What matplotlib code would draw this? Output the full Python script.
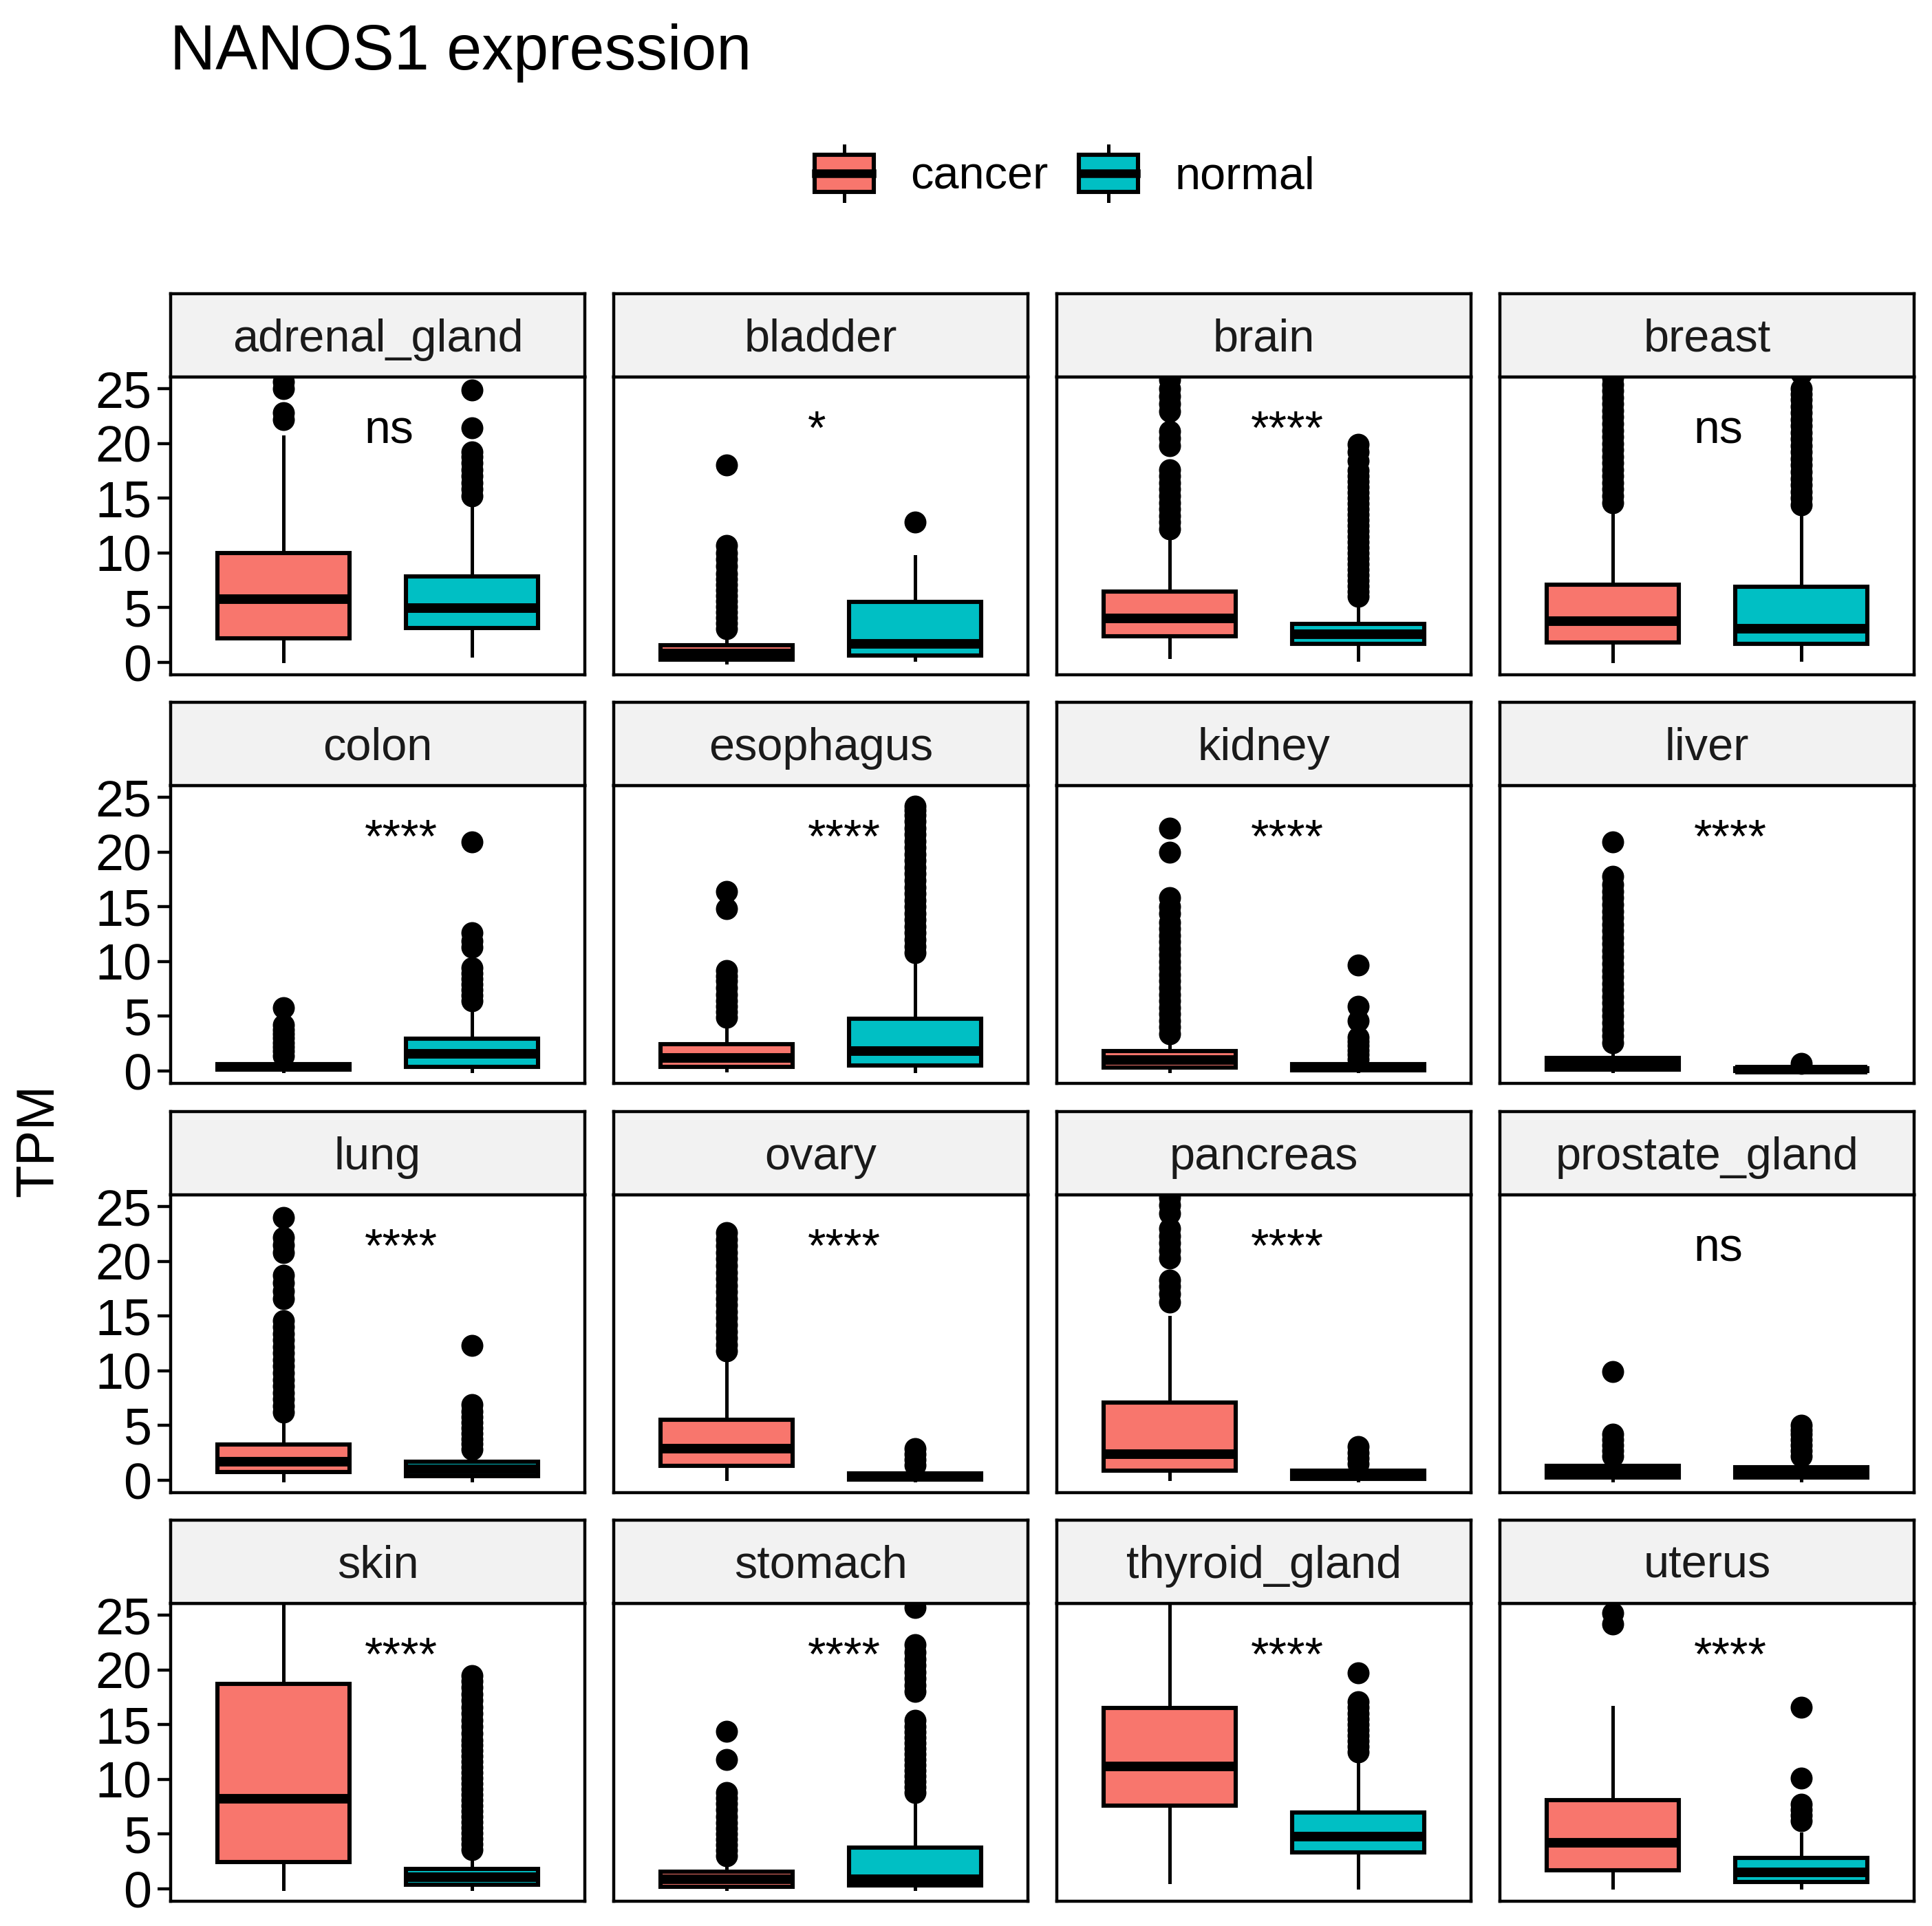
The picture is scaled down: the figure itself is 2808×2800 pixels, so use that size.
import matplotlib
matplotlib.use('Agg')
import matplotlib.pyplot as plt
from matplotlib.patches import Patch, Rectangle
from matplotlib.lines import Line2D
from matplotlib.legend_handler import HandlerBase

plt.rcParams['font.family'] = ['Liberation Sans', 'DejaVu Sans']

# --- данные (оценки по картинке) ---
tissues = ['adrenal_gland', 'bladder', 'brain', 'breast',
           'colon', 'esophagus', 'kidney', 'liver',
           'lung', 'ovary', 'pancreas', 'prostate_gland',
           'skin', 'stomach', 'thyroid_gland', 'uterus']
signif = ['ns', '*', '****', 'ns',
          '****', '****', '****', '****',
          '****', '****', '****', 'ns',
          '****', '****', '****', '****']

cancer_lo = [0.1, 0.0, 0.5, 0.1, 0.0, 0.05, 0.0, 0.0,
             0.0, 0.1, 0.1, 0.0, 0.0, 0.0, 0.6, 0.1]
cancer_q1 = [2.2, 0.25, 2.4, 1.8, 0.1, 0.4, 0.3, 0.1,
             0.75, 1.35, 0.85, 0.25, 2.45, 0.2, 7.6, 1.7]
cancer_med = [5.8, 0.8, 4.0, 3.75, 0.35, 1.2, 1.0, 0.6,
              1.7, 2.9, 2.4, 0.8, 8.25, 0.9, 11.2, 4.2]
cancer_q3 = [10.0, 1.55, 6.5, 7.1, 0.6, 2.45, 1.85, 1.2,
             3.25, 5.55, 7.1, 1.3, 18.7, 1.6, 16.5, 8.1]
cancer_hi = [20.6, 3.0, 11.4, 13.9, 1.3, 4.2, 2.9, 1.9,
             5.5, 11.0, 14.9, 1.6, 40.0, 2.2, 30.0, 16.6]

normal_lo = [0.6, 0.25, 0.25, 0.25, 0.0, 0.0, 0.0, 0.0,
             0.0, 0.0, 0.0, 0.0, 0.0, 0.0, 0.1, 0.1]
normal_q1 = [3.15, 0.6, 1.7, 1.7, 0.4, 0.5, 0.05, 0.0,
             0.35, 0.05, 0.1, 0.25, 0.4, 0.3, 3.3, 0.6]
normal_med = [4.95, 1.7, 2.55, 3.1, 1.6, 1.8, 0.3, 0.1,
              1.0, 0.3, 0.45, 0.7, 1.1, 0.9, 4.8, 1.5]
normal_q3 = [7.85, 5.55, 3.5, 6.9, 2.95, 4.8, 0.6, 0.25,
             1.7, 0.6, 0.85, 1.2, 1.85, 3.8, 7.0, 2.85]
normal_hi = [14.3, 9.7, 4.95, 13.6, 5.4, 10.0, 1.0, 0.4,
             2.0, 1.0, 1.3, 1.5, 2.8, 7.9, 11.45, 5.05]

cancer_out = [
    [22.2, 22.8, 25.0, 25.6, 26.5, 28.0],
    [3.1, 3.6, 4.1, 4.6, 5.1, 5.6, 6.1, 6.6, 7.1, 7.6, 8.1, 8.8, 9.4,
     10.0, 10.7, 18.0],
    [12.2, 12.8, 13.4, 14.0, 14.6, 15.2, 15.8, 16.4, 17.0, 17.6, 19.8,
     20.5, 21.1, 22.9, 23.6, 24.3, 25.0, 25.8],
    [14.6, 15.2, 15.8, 16.4, 17.0, 17.6, 18.2, 18.8, 19.4, 20.0, 20.6,
     21.2, 21.8, 22.4, 23.0, 23.6, 24.2, 24.8, 25.4, 26.0, 27.0],
    [1.4, 1.8, 2.2, 2.6, 3.0, 3.4, 3.8, 4.2, 5.8],
    [4.9, 5.4, 5.9, 6.4, 7.0, 7.6, 8.2, 8.7, 9.2, 14.8, 16.4],
    [3.4, 4.0, 4.6, 5.2, 5.8, 6.4, 7.0, 7.6, 8.2, 8.8, 9.4, 10.0, 10.6,
     11.2, 11.8, 12.4, 13.0, 13.6, 14.4, 15.0, 15.8, 20.0, 22.2],
    [2.6, 3.2, 3.8, 4.4, 5.0, 5.6, 6.2, 6.8, 7.4, 8.0, 8.6, 9.2, 9.8,
     10.4, 11.0, 11.6, 12.2, 12.8, 13.4, 14.0, 14.6, 15.2, 15.8, 16.4,
     17.0, 17.8, 20.9],
    [6.2, 6.8, 7.4, 8.0, 8.6, 9.2, 9.8, 10.4, 11.0, 11.6, 12.2, 12.8,
     13.4, 14.0, 14.6, 16.6, 17.3, 18.0, 18.7, 20.8, 21.5, 22.2, 24.0],
    [11.8, 12.4, 13.0, 13.6, 14.2, 14.8, 15.4, 16.0, 16.6, 17.2, 17.8,
     18.4, 19.0, 19.6, 20.2, 20.8, 21.4, 22.0, 22.6],
    [16.3, 17.0, 17.7, 18.3, 20.3, 21.0, 21.7, 22.3, 23.0, 24.4, 25.1,
     25.8, 26.6],
    [2.2, 2.7, 3.2, 3.7, 4.2, 9.9],
    [],
    [3.0, 3.5, 4.0, 4.5, 5.0, 5.5, 6.0, 6.6, 7.2, 7.8, 8.3, 8.8, 11.8,
     14.4],
    [],
    [24.2, 25.2],
]

normal_out = [
    [15.2, 15.8, 16.4, 17.0, 17.6, 18.2, 18.8, 19.2, 21.4, 24.9],
    [12.8],
    [6.0, 6.5, 7.0, 7.5, 8.0, 8.5, 9.0, 9.5, 10.0, 10.5, 11.0, 11.5,
     12.0, 12.5, 13.0, 13.5, 14.0, 14.5, 15.0, 15.5, 16.0, 16.5, 17.0,
     17.5, 18.4, 19.2, 19.9],
    [14.4, 15.0, 15.6, 16.2, 16.8, 17.4, 18.0, 18.6, 19.2, 19.8, 20.4,
     21.0, 21.6, 22.2, 22.8, 23.4, 24.0, 24.5, 25.0, 26.4],
    [6.4, 6.9, 7.4, 7.9, 8.4, 8.9, 9.4, 11.3, 11.9, 12.6, 20.9],
    [10.8, 11.4, 12.0, 12.6, 13.2, 13.8, 14.4, 15.0, 15.6, 16.2, 16.8,
     17.4, 18.0, 18.6, 19.2, 19.8, 20.4, 21.0, 21.6, 22.2, 22.8, 23.4,
     23.8, 24.2],
    [1.1, 1.5, 1.9, 2.3, 2.7, 3.1, 4.6, 5.9, 9.7],
    [0.7],
    [2.8, 3.3, 3.8, 4.3, 4.8, 5.3, 5.8, 6.3, 6.9, 12.3],
    [1.4, 1.9, 2.4, 2.9],
    [1.5, 2.0, 2.5, 3.1],
    [2.2, 2.7, 3.2, 3.7, 4.2, 4.6, 5.0],
    [3.6, 4.1, 4.6, 5.1, 5.6, 6.1, 6.6, 7.1, 7.6, 8.1, 8.6, 9.1, 9.6,
     10.1, 10.6, 11.1, 11.6, 12.1, 12.6, 13.1, 13.6, 14.2, 14.8, 15.4,
     16.0, 16.6, 17.2, 17.8, 18.4, 19.0, 19.5],
    [8.8, 9.3, 9.8, 10.3, 10.8, 11.3, 11.8, 12.3, 12.8, 13.3, 13.8,
     14.3, 14.8, 15.4, 18.0, 18.6, 19.2, 19.8, 20.4, 21.0, 21.6, 22.3,
     25.7],
    [12.5, 13.0, 13.5, 14.0, 14.5, 15.0, 15.5, 16.0, 16.6, 17.1, 19.7],
    [6.2, 6.7, 7.2, 7.7, 10.1, 16.6],
]

groups = ['cancer', 'normal']
colors = ['#F8766D', '#00BFC4']
yticks = [0, 5, 10, 15, 20, 25]

# --- разметка в пикселях ---
W, H = 2808, 2800
col_left = [248, 892, 1536, 2180]
row_top = [548, 1142, 1737, 2331]
pw, ph, sh = 602, 433, 121


def rect(left, top, width, height):
    return [left / W, 1 - (top + height) / H, width / W, height / H]


class BoxKey(HandlerBase):
    def create_artists(self, legend, orig_handle, xdescent, ydescent,
                       width, height, fontsize, trans):
        x0, y0 = -xdescent, -ydescent
        bh = height * 0.66
        by = y0 + (height - bh) / 2
        cx = x0 + width / 2
        w1 = Line2D([cx, cx], [y0, by], color='black', lw=1.8,
                    transform=trans)
        w2 = Line2D([cx, cx], [by + bh, y0 + height], color='black',
                    lw=1.8, transform=trans)
        box = Rectangle((x0, by), width, bh,
                        facecolor=orig_handle.get_facecolor(),
                        edgecolor='black', lw=2.2, transform=trans)
        med = Line2D([x0 + 1, x0 + width - 1], [y0 + height / 2] * 2,
                     color='black', lw=4.5, transform=trans)
        return [w1, w2, box, med]


fig = plt.figure(figsize=(W / 200, H / 200), dpi=200)
fig.patch.set_facecolor('white')

for i, name in enumerate(tissues):
    r, c = divmod(i, 4)
    ax = fig.add_axes(rect(col_left[c], row_top[r], pw, ph))
    stats = [
        dict(whislo=cancer_lo[i], q1=cancer_q1[i], med=cancer_med[i],
             q3=cancer_q3[i], whishi=cancer_hi[i], fliers=cancer_out[i]),
        dict(whislo=normal_lo[i], q1=normal_q1[i], med=normal_med[i],
             q3=normal_q3[i], whishi=normal_hi[i], fliers=normal_out[i]),
    ]
    bp = ax.bxp(stats, positions=[1, 2], widths=0.7, patch_artist=True,
                showcaps=False,
                boxprops=dict(edgecolor='black', linewidth=2.2),
                medianprops=dict(color='black', linewidth=5),
                whiskerprops=dict(color='black', linewidth=1.8),
                flierprops=dict(marker='o', markerfacecolor='black',
                                markeredgecolor='black', markersize=10.5))
    for patch, col in zip(bp['boxes'], colors):
        patch.set_facecolor(col)
    ax.set_xlim(0.4, 2.6)
    ax.set_ylim(-1.13, 26.07)
    ax.set_xticks([])
    ax.set_yticks(yticks)
    ax.tick_params(axis='y', length=7, width=1.6, pad=3, labelsize=26.5,
                   colors='black')
    if c != 0:
        ax.tick_params(axis='y', length=0, labelleft=False)
    for sp in ax.spines.values():
        sp.set_linewidth(1.6)
        sp.set_color('black')
    ax.text(1.43, 20.0, signif[i], ha='left', va='baseline', fontsize=24.5)

    sax = fig.add_axes(rect(col_left[c], row_top[r] - sh, pw, sh))
    sax.set_facecolor('#F2F2F2')
    sax.set_xticks([])
    sax.set_yticks([])
    for sp in sax.spines.values():
        sp.set_linewidth(1.6)
        sp.set_color('black')
    sax.text(0.5, 0.45, name, ha='center', va='center', fontsize=24,
             color='#1A1A1A', transform=sax.transAxes)

fig.text(247 / W, 1 - 101 / H, 'NANOS1 expression', ha='left',
         va='baseline', fontsize=33)
fig.text(57 / W, 1 - 1658 / H, 'TPM', ha='center', va='center',
         rotation=90, fontsize=28)

handles = [Patch(facecolor=col, edgecolor='black') for col in colors]
fig.legend(handles, groups, loc='center', bbox_to_anchor=(0.551, 0.91),
           ncol=2, frameon=False, fontsize=24, handlelength=1.29,
           handleheight=1.485, handletextpad=0.8, columnspacing=0.67,
           borderpad=0, handler_map={Patch: BoxKey()})

fig.savefig('out.png', dpi=200)
